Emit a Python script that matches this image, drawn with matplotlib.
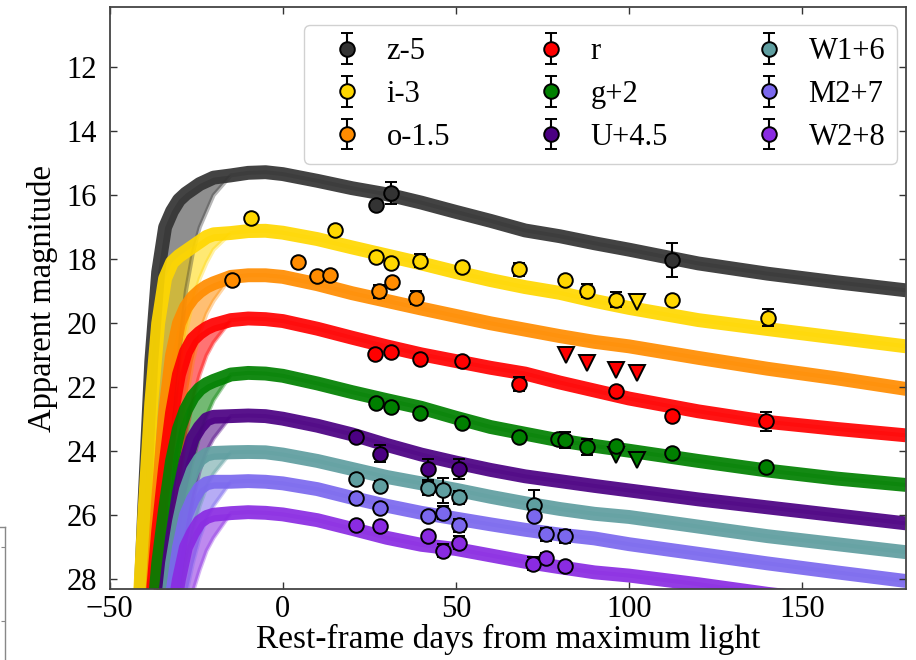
import matplotlib
matplotlib.use("Agg")
import matplotlib.pyplot as plt

plt.rcParams['font.family'] = ['Liberation Serif', 'DejaVu Serif']
plt.rcParams['mathtext.fontset'] = 'stix'

# ---------------- data ----------------
bands = ["z-5", "i-3", "o-1.5", "r", "g+2", "U+4.5", "W1+6", "M2+7", "W2+8"]
colors = ["#333333", "#FFD700", "#FF8C00", "#FF0000", "#008000",
          "#4B0082", "#5F9EA0", "#7B68EE", "#8A2BE2"]

# model light-curve bundles
rise_days = [-46, -44, -42, -40, -38, -36, -34, -32, -30, -28, -26, -24, -22, -20]
decl_days = [-15, -10, -5, 0, 10, 20, 30, 40, 50, 60, 70, 80, 90, 100, 120, 140, 160, 180]

z_rise = [40, 36, 30.9, 25.7, 21.2, 18.4, 17.0, 16.5, 16.15, 15.95, 15.8, 15.65, 15.55, 15.45]
i_rise = [40, 35, 30, 26, 22.5, 20.0, 18.6, 18.1, 17.9, 17.75, 17.6, 17.45, 17.3, 17.22]
o_rise = [40, 40, 40, 33, 29, 25.5, 22.8, 21.0, 20.0, 19.5, 19.2, 19.0, 18.85, 18.75]
r_rise = [40, 40, 40, 32, 29, 26.5, 24.5, 22.8, 21.6, 20.9, 20.5, 20.3, 20.15, 20.05]
g_rise = [40, 40, 40, 34, 30, 27.5, 25.8, 24.3, 23.3, 22.7, 22.3, 22.05, 21.9, 21.8]
U_rise = [40, 40, 40, 40, 40, 31, 28.5, 26.7, 25.3, 24.3, 23.6, 23.25, 23.0, 22.92]
W1_rise = [40, 40, 40, 40, 40, 32, 29.5, 27.5, 26.2, 25.2, 24.6, 24.25, 24.1, 24.05]
M2_rise = [40, 40, 40, 40, 40, 40, 30, 28.5, 27.0, 26.0, 25.5, 25.15, 25.0, 24.95]
W2_rise = [40, 40, 40, 40, 40, 40, 31, 29.3, 28.0, 27.0, 26.55, 26.2, 26.05, 25.98]

z_late = [40, 40, 40, 40, 40, 33, 28, 24, 21, 19, 17.8, 17.0, 16.5, 16.0]
i_late = [40, 40, 40, 40, 40, 31, 27, 24, 21.8, 20.3, 19.3, 18.6, 18.1, 17.7]
o_late = [40, 40, 40, 40, 40, 40, 31, 27.5, 24.5, 22.5, 21.2, 20.3, 19.7, 19.3]
r_late = [40, 40, 40, 40, 40, 40, 30, 27, 25, 23.5, 22.4, 21.6, 21.0, 20.6]
g_late = [40, 40, 40, 40, 40, 40, 31, 28.5, 26.5, 25.3, 24.3, 23.5, 22.9, 22.4]
U_late = [40, 40, 40, 40, 40, 40, 40, 30, 28.2, 26.7, 25.5, 24.6, 24.0, 23.6]
W1_late = [40, 40, 40, 40, 40, 40, 40, 31, 29, 27.5, 26.5, 25.7, 25.1, 24.7]
M2_late = [40, 40, 40, 40, 40, 40, 40, 40, 30, 28.5, 27.5, 26.7, 26.1, 25.7]
W2_late = [40, 40, 40, 40, 40, 40, 40, 40, 31, 29.3, 28.4, 27.7, 27.1, 26.7]

z_decl = [15.38, 15.3, 15.28, 15.34, 15.55, 15.78, 15.97, 16.23, 16.52, 16.8, 17.1, 17.28, 17.5, 17.7, 18.13, 18.45, 18.72, 18.97]
i_decl = [17.18, 17.12, 17.11, 17.17, 17.37, 17.63, 17.88, 18.13, 18.4, 18.65, 18.87, 19.05, 19.3, 19.52, 19.9, 20.18, 20.45, 20.72]
o_decl = [18.55, 18.5, 18.5, 18.55, 18.78, 19.06, 19.3, 19.54, 19.77, 20.0, 20.2, 20.4, 20.58, 20.72, 21.08, 21.42, 21.72, 22.05]
r_decl = [19.9, 19.85, 19.87, 19.93, 20.17, 20.45, 20.72, 20.97, 21.18, 21.39, 21.57, 21.85, 22.1, 22.35, 22.75, 23.08, 23.3, 23.5]
g_decl = [21.6, 21.55, 21.57, 21.64, 21.88, 22.15, 22.4, 22.64, 22.95, 23.24, 23.45, 23.66, 23.83, 23.98, 24.3, 24.6, 24.85, 25.05]
U_decl = [22.9, 22.88, 22.9, 22.98, 23.2, 23.47, 23.8, 24.1, 24.35, 24.58, 24.78, 24.93, 25.08, 25.22, 25.5, 25.75, 26.0, 26.25]
W1_decl = [24.03, 24.02, 24.03, 24.1, 24.3, 24.55, 24.8, 25.0, 25.2, 25.42, 25.62, 25.8, 25.95, 26.05, 26.35, 26.65, 26.9, 27.15]
M2_decl = [24.95, 24.93, 24.95, 25.0, 25.18, 25.45, 25.7, 25.92, 26.1, 26.28, 26.45, 26.6, 26.72, 26.9, 27.2, 27.5, 27.78, 28.05]
W2_decl = [25.93, 25.9, 25.92, 25.97, 26.15, 26.42, 26.7, 26.92, 27.05, 27.25, 27.45, 27.62, 27.78, 27.88, 28.15, 28.45, 28.7, 29.0]

model_rise = [z_rise, i_rise, o_rise, r_rise, g_rise, U_rise, W1_rise, M2_rise, W2_rise]
model_late = [z_late, i_late, o_late, r_late, g_late, U_late, W1_late, M2_late, W2_late]
model_decl = [z_decl, i_decl, o_decl, r_decl, g_decl, U_decl, W1_decl, M2_decl, W2_decl]

# observed photometry: days, magnitudes, errors
z_t = [26.9, 31.3, 112.4]
z_m = [16.31, 15.93, 18.01]
z_e = [0.10, 0.35, 0.53]

i_t = [-9.2, 15.2, 26.8, 31.3, 39.5, 51.8, 68.3, 81.6, 87.9, 96.1, 112.4, 140.2]
i_m = [16.70, 17.09, 17.93, 18.12, 18.05, 18.25, 18.31, 18.64, 18.98, 19.26, 19.26, 19.82]
i_e = [0.05, 0.05, 0.08, 0.08, 0.2, 0.08, 0.2, 0.08, 0.2, 0.24, 0.1, 0.27]
i_lim_t = [102.3]
i_lim_m = [19.33]

o_t = [-14.6, 4.5, 9.8, 13.5, 27.8, 31.4, 38.6]
o_m = [18.64, 18.08, 18.53, 18.50, 19.00, 18.72, 19.20]
o_e = [0.05, 0.05, 0.05, 0.05, 0.2, 0.1, 0.2]

r_t = [26.7, 31.3, 39.5, 51.8, 68.3, 96.1, 112.4, 139.6]
r_m = [20.96, 20.89, 21.10, 21.17, 21.90, 22.10, 22.91, 23.06]
r_e = [0.08, 0.08, 0.08, 0.08, 0.22, 0.1, 0.15, 0.30]
r_lim_t = [81.7, 88.0, 96.1, 102.4]
r_lim_m = [20.98, 21.23, 21.47, 21.54]

g_t = [26.8, 31.3, 39.5, 51.8, 68.3, 79.4, 81.6, 88.0, 96.2, 112.4, 139.6]
g_m = [22.48, 22.60, 22.80, 23.11, 23.55, 23.63, 23.66, 23.87, 23.83, 24.05, 24.50]
g_e = [0.08, 0.08, 0.1, 0.08, 0.08, 0.1, 0.25, 0.25, 0.1, 0.1, 0.1]
g_lim_t = [96.1, 102.4]
g_lim_m = [24.10, 24.26]

U_t = [21.0, 28.2, 42.0, 50.9]
U_m = [23.56, 24.07, 24.56, 24.55]
U_e = [0.1, 0.27, 0.32, 0.32]

W1_t = [21.0, 28.2, 41.8, 46.2, 51.0, 72.6]
W1_m = [24.85, 25.09, 25.16, 25.22, 25.43, 25.68]
W1_e = [0.1, 0.15, 0.2, 0.38, 0.2, 0.48]

M2_t = [21.0, 28.2, 41.8, 46.2, 51.0, 72.6, 76.1, 81.5]
M2_m = [25.47, 25.76, 26.03, 25.92, 26.31, 26.03, 26.59, 26.65]
M2_e = [0.1, 0.1, 0.1, 0.2, 0.2, 0.15, 0.2, 0.2]

W2_t = [21.0, 28.2, 41.8, 46.2, 51.0, 72.4, 76.1, 81.4]
W2_m = [26.31, 26.34, 26.66, 27.10, 26.85, 27.51, 27.34, 27.59]
W2_e = [0.1, 0.1, 0.1, 0.2, 0.2, 0.2, 0.15, 0.1]

obs_t = [z_t, i_t, o_t, r_t, g_t, U_t, W1_t, M2_t, W2_t]
obs_m = [z_m, i_m, o_m, r_m, g_m, U_m, W1_m, M2_m, W2_m]
obs_e = [z_e, i_e, o_e, r_e, g_e, U_e, W1_e, M2_e, W2_e]
lim_t = {1: i_lim_t, 3: r_lim_t, 4: g_lim_t}
lim_m = {1: i_lim_m, 3: r_lim_m, 4: g_lim_m}

x_ticks = [-50, 0, 50, 100, 150]
y_ticks = [12, 14, 16, 18, 20, 22, 24, 26, 28]

# ---------------- figure ----------------
W, H = 916, 660
fig = plt.figure(figsize=(W / 100, H / 100), dpi=100)
L, R, T, B = 109.7, 906, 7, 589
ax = fig.add_axes([L / W, (H - B) / H, (R - L) / W, (B - T) / H])

model_days = rise_days + decl_days
for k in range(len(bands)):
    mid = model_rise[k] + model_decl[k]
    late = model_late[k] + model_decl[k]
    ax.fill_between(model_days, mid, late, color=colors[k], alpha=0.55, lw=0, zorder=1)
    ax.plot(model_days, late, color=colors[k], lw=3, alpha=0.35,
            solid_joinstyle='round', zorder=1.2)
    ax.plot(model_days, mid, color=colors[k], lw=10, alpha=0.92,
            solid_joinstyle='round', solid_capstyle='butt', zorder=1.5)

handles = []
for k in range(len(bands)):
    h = ax.errorbar(obs_t[k], obs_m[k], yerr=obs_e[k], fmt='o', ms=10.5,
                    mfc=colors[k], mec='black', mew=1.4, ecolor='black',
                    elinewidth=1.5, capsize=4.5, capthick=1.5, zorder=3,
                    label=bands[k])
    handles.append(h)
    if k in lim_t:
        ax.plot(lim_t[k], lim_m[k], 'v', ms=12, mfc=colors[k], mec='black',
                mew=1.4, zorder=3, ls='none')

ax.set_xlim(-50, 180)
ax.set_ylim(28.3, 10.12)
ax.set_xticks(x_ticks)
ax.set_yticks(y_ticks)
ax.tick_params(direction='in', top=True, right=True, length=5, width=1.0,
               labelsize=22, color='#333333')
ax.tick_params(axis='x', pad=4)
ax.tick_params(axis='y', pad=9)
for s in ax.spines.values():
    s.set_color('#444444')
    s.set_linewidth(1.3)

ax.set_xlabel('Rest-frame days from maximum light', fontsize=24, labelpad=0)
ax.set_ylabel('Apparent magnitude', fontsize=23.5, labelpad=6)

leg = ax.legend(handles=handles, ncol=3, fontsize=22, loc='upper left',
                bbox_to_anchor=((304 - L) / (R - L), (B - 25) / (B - T)),
                borderaxespad=0.0,
                handlelength=2.0, handletextpad=0.3, columnspacing=2.3,
                labelspacing=0.45, borderpad=0.4, framealpha=0.9,
                edgecolor='0.8', fancybox=True)

# cropped edge of a neighbouring panel at the bottom-left of the reference
ax2 = fig.add_axes([-0.2, -0.1, 0.2 + 5 / W, 0.1 + (H - 527) / H])
ax2.set_xlim(0, 1)
ax2.set_ylim(0, 1)
ax2.set_xticks([])
ax2.set_yticks([((H - 547) / H + 0.1) / (0.1 + (H - 527) / H),
                ((H - 620.7) / H + 0.1) / (0.1 + (H - 527) / H)])
ax2.yaxis.tick_right()
ax2.tick_params(axis='y', direction='in', length=3, labelright=False, color='#888888')
for s in ax2.spines.values():
    s.set_color('#888888')
    s.set_linewidth(1.0)
ax2.patch.set_alpha(0)

fig.savefig('out.png', dpi=100)
